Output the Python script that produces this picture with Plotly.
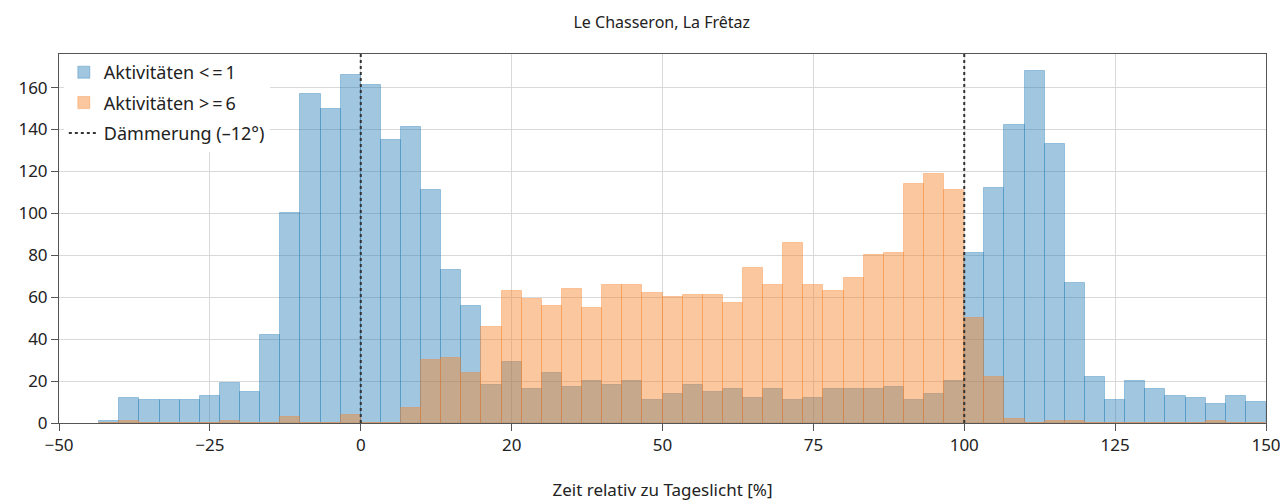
import plotly.graph_objects as go

# ------------------------------------------------------------
# DATA (counts per bin, bin width = 100/30 %, first bin starts at -43.33 %)
# ------------------------------------------------------------
bin_width = 100 / 30
first_bin = -13   # index of first bin (bin k covers [k*w, (k+1)*w))

count_low = [1, 12, 11, 11, 11, 13, 19, 15, 42, 100, 157, 150, 166,
             161, 135, 141, 111, 73, 56, 18, 29, 16, 24, 17, 20, 18, 20,
             11, 14, 18, 15, 16, 12, 16, 11, 12, 16, 16, 16, 17, 11, 14, 20,
             81, 112, 142, 168, 133, 67, 22, 11, 20, 16, 13, 12, 9, 13, 10]

count_high = [0, 1, 0, 0, 0, 0, 1, 0, 0, 3, 0, 0, 4,
              0, 0, 7, 30, 31, 24, 46, 63, 59, 56, 64, 55, 66, 66,
              62, 60, 61, 61, 57, 74, 66, 86, 66, 63, 69, 80, 81, 114, 119, 111,
              50, 22, 2, 0, 1, 1, 0, 0, 0, 0, 0, 0, 1, 0, 0]

dusk_lines = [0, 100]

x_tickvals = [-50, -25, 0, 25, 50, 75, 100, 125, 150]
x_ticktext = ["\u221250", "\u221225", "0", "20", "50", "75", "100", "125", "150"]
y_tickvals = [0, 20, 40, 60, 80, 100, 120, 140, 160]

bin_left = [(first_bin + i) * bin_width for i in range(len(count_low))]

FONT = "Noto Sans"

fig = go.Figure()

fig.add_trace(go.Bar(
    x=bin_left, y=count_low, width=bin_width, offset=0,
    name="Aktivitäten <\u2009=\u20091", legendgroup="low",
    marker=dict(color="rgba(31,119,180,0.42)",
                line=dict(color="rgba(31,119,180,0.35)", width=1)),
))
fig.add_trace(go.Bar(
    x=bin_left, y=count_high, width=bin_width, offset=0,
    name="Aktivitäten >\u2009=\u20096", legendgroup="high",
    marker=dict(color="rgba(245,130,40,0.45)",
                line=dict(color="rgba(245,130,40,0.35)", width=1)),
))

# dusk lines (one legend entry)
for i, xv in enumerate(dusk_lines):
    fig.add_trace(go.Scatter(
        x=[xv, xv], y=[0, 176], mode="lines",
        line=dict(color="#333333", width=2, dash="dot"),
        name="Dämmerung (\u201312°)",
        showlegend=(i == 0),
        legendgroup="dusk",
    ))

fig.update_layout(
    width=1280, height=501,
    barmode="overlay",
    bargap=0,
    plot_bgcolor="white",
    paper_bgcolor="white",
    font=dict(family=FONT, size=17, color="#222222"),
    margin=dict(l=59, r=14, t=54, b=78, autoexpand=False),
    title=dict(text="Le Chasseron, La Frêtaz", x=0.517, xanchor="center",
               yref="container", y=1 - 22 / 501, yanchor="middle",
               font=dict(size=16)),
    legend=dict(x=0.004, y=1.0, xanchor="left", yanchor="top",
                bgcolor="white", borderwidth=0,
                traceorder="grouped", tracegroupgap=4,
                font=dict(size=18)),
)

fig.update_xaxes(
    range=[-50, 150], tickvals=x_tickvals, ticktext=x_ticktext,
    showgrid=True, gridcolor="#d9d9d9", gridwidth=1,
    showline=True, linecolor="#555555", linewidth=1, mirror=True,
    ticks="outside", ticklen=7, tickcolor="#555555",
    tickfont=dict(size=17), ticklabeloverflow="allow",
    zeroline=False, layer="above traces", automargin=False,
    title=dict(text="Zeit relativ zu Tageslicht [%]", standoff=28,
               font=dict(size=17)),
)
fig.update_yaxes(
    range=[0, 176], tickvals=y_tickvals,
    showgrid=True, gridcolor="#d9d9d9", gridwidth=1,
    showline=True, linecolor="#555555", linewidth=1, mirror=True,
    ticks="outside", ticklen=7, tickcolor="#555555",
    tickfont=dict(size=17), ticklabeloverflow="allow",
    zeroline=False, layer="above traces", automargin=False,
)

# the page body has a default 8px margin; remove it so the figure fills the window
fig.write_html("out.html",
               config={"displayModeBar": False},
               post_script="document.body.style.margin='0';document.body.style.overflow='hidden';")
